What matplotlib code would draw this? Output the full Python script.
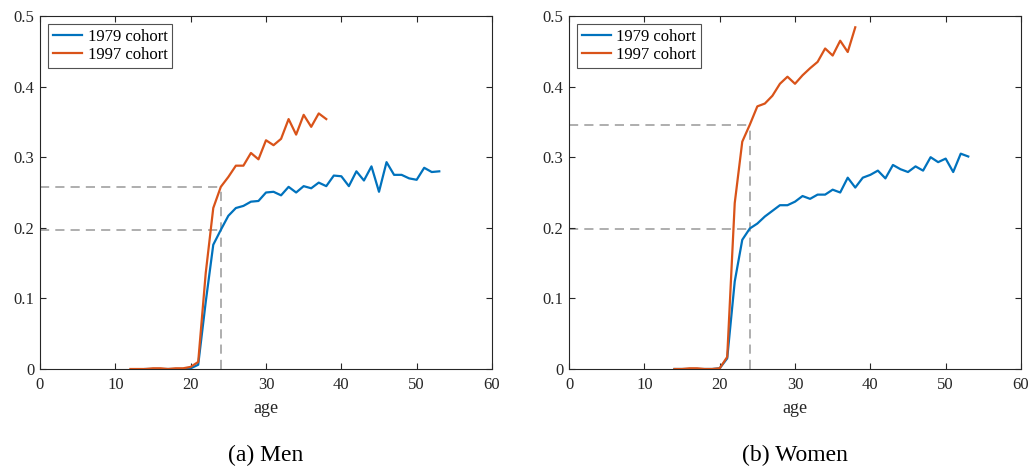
import numpy as np
import matplotlib.pyplot as plt

# edades
ages_79_men = list(range(14, 54))
ages_97_men = list(range(12, 39))
ages_79_wom = list(range(14, 54))
ages_97_wom = list(range(14, 39))

# hombres, cohorte 1979 (edad 14..53)
men_79 = [0, 0, 0, 0, 0, 0, 0.001, 0.006, 0.095, 0.176, 0.197, 0.217, 0.228, 0.231,
          0.237, 0.238, 0.250, 0.251, 0.246, 0.258, 0.250, 0.259, 0.256, 0.264,
          0.259, 0.274, 0.273, 0.259, 0.280, 0.267, 0.287, 0.251, 0.293, 0.275,
          0.275, 0.270, 0.268, 0.285, 0.279, 0.280]
# hombres, cohorte 1997 (edad 12..38)
men_97 = [0, 0, 0, 0.001, 0.001, 0, 0.001, 0.001, 0.003, 0.010, 0.136, 0.228, 0.258,
          0.272, 0.288, 0.288, 0.306, 0.297, 0.324, 0.317, 0.326, 0.354, 0.332,
          0.360, 0.343, 0.362, 0.354]
# mujeres, cohorte 1979 (edad 14..53)
wom_79 = [0, 0, 0, 0, 0, 0, 0.001, 0.015, 0.124, 0.183, 0.199, 0.206, 0.216, 0.224,
          0.232, 0.232, 0.237, 0.245, 0.241, 0.247, 0.247, 0.254, 0.250, 0.271,
          0.257, 0.271, 0.275, 0.281, 0.270, 0.289, 0.283, 0.279, 0.287, 0.281,
          0.300, 0.293, 0.298, 0.279, 0.305, 0.301]
# mujeres, cohorte 1997 (edad 14..38)
wom_97 = [0, 0, 0.001, 0.001, 0, 0, 0.001, 0.017, 0.235, 0.322, 0.346, 0.372, 0.376,
          0.387, 0.404, 0.414, 0.404, 0.416, 0.426, 0.435, 0.454, 0.444, 0.465,
          0.449, 0.484]

ref_age = 24
ref_men = [0.197, 0.258]
ref_wom = [0.199, 0.346]

xticks = [0, 10, 20, 30, 40, 50, 60]
yticks = [0, 0.1, 0.2, 0.3, 0.4, 0.5]
ytick_labels = ['0', '0.1', '0.2', '0.3', '0.4', '0.5']
captions = ['(a) Men', '(b) Women']

blue = '#0072BD'
orange = '#D95319'
serif = ['Liberation Serif', 'DejaVu Serif']

fig = plt.figure(figsize=(10.32, 4.68), dpi=100)
ax1 = fig.add_axes([40 / 1032, 99 / 468, 452 / 1032, 353 / 468])
ax2 = fig.add_axes([569 / 1032, 99 / 468, 452 / 1032, 353 / 468])

panels = [
    (ax1, ages_79_men, men_79, ages_97_men, men_97, ref_men),
    (ax2, ages_79_wom, wom_79, ages_97_wom, wom_97, ref_wom),
]

for i, (ax, a79, v79, a97, v97, ref) in enumerate(panels):
    # lineas de referencia a los 24 años
    for r in ref:
        ax.plot([0, ref_age], [r, r], color='#999999', lw=1.1, ls=(0, (6, 4)), zorder=1)
    ax.plot([ref_age, ref_age], [0, max(ref)], color='#999999', lw=1.1,
            ls=(0, (6, 4)), zorder=1)
    ax.plot(a79, v79, color=blue, lw=1.6, label='1979 cohort', zorder=2)
    ax.plot(a97, v97, color=orange, lw=1.6, label='1997 cohort', zorder=3)

    ax.set_xlim(0, 60)
    ax.set_ylim(0, 0.5)
    ax.set_xticks(xticks)
    ax.set_yticks(yticks)
    ax.set_yticklabels(ytick_labels)
    ax.tick_params(direction='in', top=True, right=True, length=4, width=0.8,
                   colors='#262626', labelsize=12)
    ax.tick_params(axis='x', pad=6)
    ax.tick_params(axis='y', pad=4)
    for lab in ax.get_xticklabels() + ax.get_yticklabels():
        lab.set_family(serif)
    for sp in ax.spines.values():
        sp.set_color('#262626')
        sp.set_linewidth(0.8)
    ax.set_xlabel('age', fontsize=13, family=serif, color='#262626', labelpad=5)

    leg = ax.legend(loc='upper left', frameon=True, fancybox=False,
                    borderaxespad=0.5, handlelength=1.7, handletextpad=0.35,
                    borderpad=0.3, labelspacing=0.12,
                    prop={'family': serif, 'size': 12})
    leg.get_frame().set_edgecolor('#262626')
    leg.get_frame().set_linewidth(0.8)

    ax.text(0.5, -0.244, captions[i], transform=ax.transAxes, ha='center',
            va='center', fontsize=17, family=serif, color='black')

fig.savefig('out.png', dpi=100)
